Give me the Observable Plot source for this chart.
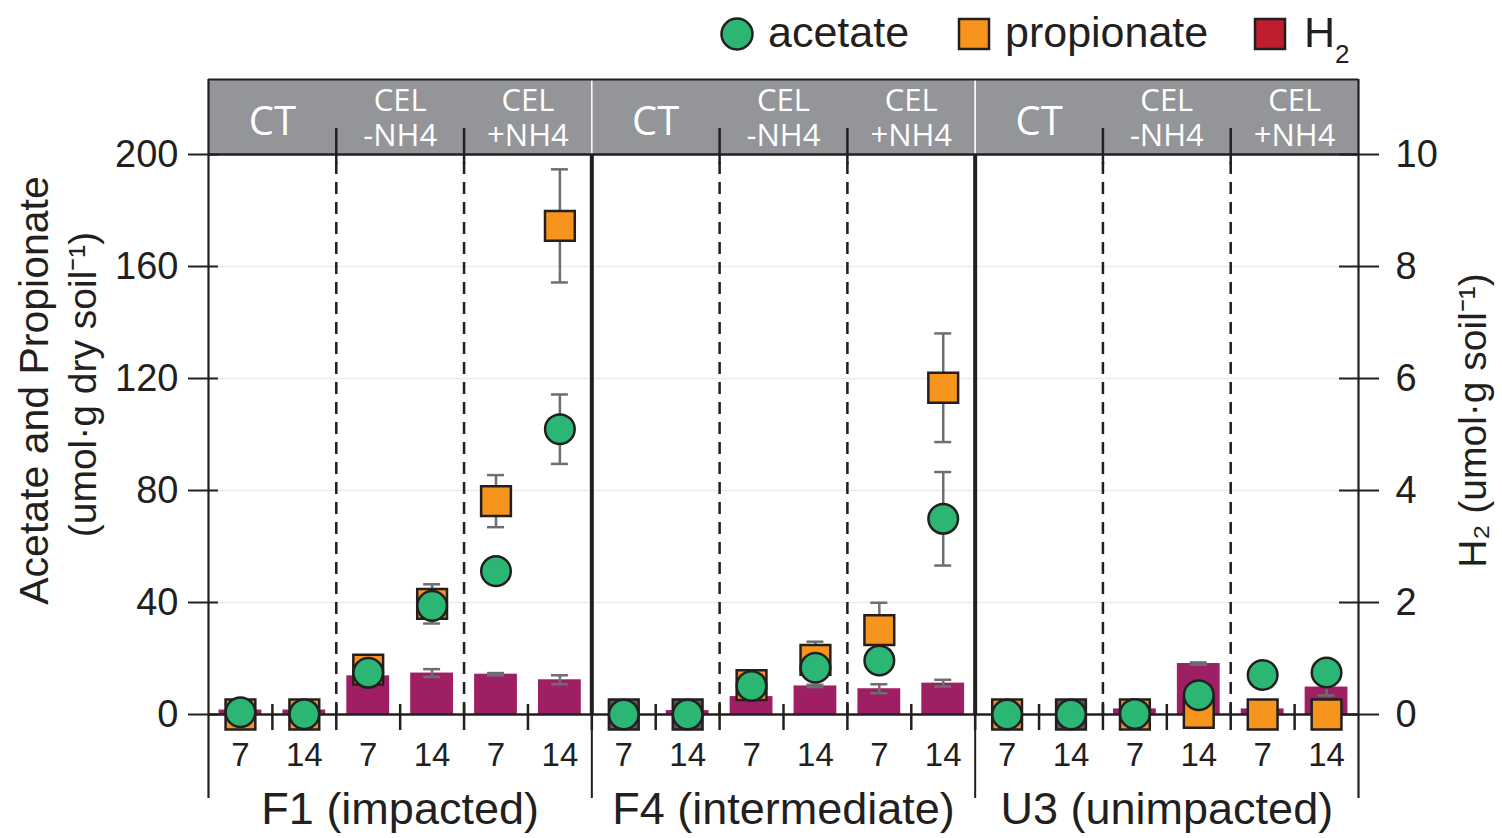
<!DOCTYPE html>
<html>
<head>
<meta charset="utf-8">
<script src="https://cdn.jsdelivr.net/npm/d3@7"></script>
<script src="https://cdn.jsdelivr.net/npm/@observablehq/plot@0.6"></script>
<style>
  html, body { margin: 0; padding: 0; background: #fff; }
  #chart svg { display: block; }
</style>
</head>
<body>
<div id="chart"></div>
<script>
// Site × treatment × incubation day; every series below follows that order.
const sites = ["F1", "F4", "U3"];
const siteLabels = ["F1 (impacted)", "F4 (intermediate)", "U3 (unimpacted)"];
const treatments = ["CT", "CEL -NH4", "CEL +NH4"];
const treatmentLabels = ["CT", "CEL\n-NH4", "CEL\n+NH4"];
const days = [7, 14];

// umol·g dry soil⁻¹
const acetate      = [0.8, 0.1, 14.9, 38.8, 51.2, 101.9,   0, 0, 10.2, 16.7, 19.3, 69.9,   0, 0, 0.2, 6.9, 14.1, 15.0];
const acetateSd    = [0, 0, 0, 1.5, 2, 12.4,               0, 0, 0, 0, 0, 16.7,            0, 0, 0, 0, 0, 0];
const propionate   = [0, 0, 16, 39.5, 76.2, 174.5,         0, 0, 10.5, 19.5, 30.1, 116.7,  0, 0, 0, 0.6, 0, 0];
const propionateSd = [0, 0, 1.5, 7, 9.3, 20.2,             0, 0, 0.5, 6.5, 9.8, 19.4,      0, 0, 0, 0, 0, 0];
// samples without detectable propionate are drawn in grey
const propionateNd = [false, false, false, false, false, false,
                      true, true, false, false, false, false,
                      false, true, false, false, false, false];
// umol·g soil⁻¹
const h2   = [0.08, 0.08, 0.69, 0.74, 0.72, 0.62,   0, 0.07, 0.32, 0.51, 0.46, 0.56,   0, 0, 0.1, 0.91, 0.1, 0.49];
const h2Sd = [0, 0, 0, 0.07, 0.02, 0.08,            0, 0, 0, 0.02, 0.08, 0.06,         0, 0, 0, 0.02, 0, 0.15];

const leftTicks = [0, 40, 80, 120, 160, 200];
const rightTicks = [0, 2, 4, 6, 8, 10];
const gridTicks = [40, 80, 120, 160];

// ---- styling ----
const FONT = "'Liberation Sans', Arial, Helvetica, sans-serif";
const HEAD_FONT = "'Open Sans', 'Noto Sans', sans-serif";
const INK = "#231f20";
const ERR = "#6d6e71";
const GREEN = "#2bb673";
const ORANGE = "#f7941d";
const ND_GREY = "#58595b";
const BAR = "#9e1f63";
const H2_SWATCH = "#be1e2d";
const HEADER = "#939598";

const W = 1502, H = 760;
const mTop = 76, mBottom = 124, mLeft = 208, mRight = 144;
const yMax = 200;
const H2_SCALE = yMax / rightTicks[rightTicks.length - 1]; // right axis shares the left scale
const nSlots = sites.length * treatments.length * days.length;
const yPx = px => px * yMax / (H - mTop - mBottom);
const xPx = px => px * nSlots / (W - mLeft - mRight);
const headerTop = yMax + yPx(75);

// ---- table ----
const rows = [];
sites.forEach((site, s) => treatments.forEach((t, k) => days.forEach((day, j) => {
  const i = (s * treatments.length + k) * days.length + j;
  rows.push({
    i, site, treatment: t, day, x: i + 0.5,
    acetate: acetate[i], acetateSd: acetateSd[i],
    propionate: propionate[i], propionateSd: propionateSd[i], nd: propionateNd[i],
    h2: h2[i] * H2_SCALE, h2Sd: h2Sd[i] * H2_SCALE
  });
})));

const perSite = treatments.length * days.length;
const siteRows = sites.map((s, k) => ({site: s, label: siteLabels[k], x1: k * perSite, x2: (k + 1) * perSite}));
const treatRows = [];
sites.forEach((s, k) => treatmentLabels.forEach((t, j) => treatRows.push({
  label: t, ct: j === 0, x: k * perSite + j * days.length + days.length / 2
})));
const slotEdges = d3.range(1, nSlots);
const siteEdges = slotEdges.filter(e => e % perSite === 0);
const treatEdges = slotEdges.filter(e => e % days.length === 0 && e % perSite !== 0);
const frameEdges = [0, nSlots];
const belowAxis = -yPx(84);

const capHalf = xPx(8.5);
function errorBars(key, sdKey) {
  const data = rows.filter(d => d[sdKey] > 0);
  return [
    Plot.ruleX(data, {x: "x", y1: d => d[key] - d[sdKey], y2: d => d[key] + d[sdKey], stroke: ERR, strokeWidth: 2.5}),
    Plot.ruleY(data, {y: d => d[key] + d[sdKey], x1: d => d.x - capHalf, x2: d => d.x + capHalf, stroke: ERR, strokeWidth: 2.5}),
    Plot.ruleY(data, {y: d => d[key] - d[sdKey], x1: d => d.x - capHalf, x2: d => d.x + capHalf, stroke: ERR, strokeWidth: 2.5})
  ];
}

const chart = Plot.plot({
  width: W, height: H,
  marginTop: mTop, marginBottom: mBottom, marginLeft: mLeft, marginRight: mRight,
  style: {fontFamily: FONT, color: INK, background: "#fff", overflow: "visible"},
  x: {type: "linear", domain: [0, nSlots], axis: null},
  y: {type: "linear", domain: [0, yMax], axis: null},
  marks: [
    // treatment header band
    Plot.rect(siteRows, {x1: "x1", x2: "x2", y1: yMax, y2: headerTop, fill: HEADER}),
    Plot.ruleY(gridTicks, {stroke: "#ebebeb", strokeWidth: 1.5}),

    // H2 bars (right axis)
    Plot.rect(rows, {x1: d => d.i + 0.165, x2: d => d.i + 0.835, y1: 0, y2: "h2", fill: BAR}),
    ...errorBars("h2", "h2Sd"),

    // treatment and site separators
    Plot.ruleX(treatEdges, {y1: 0, y2: yMax, stroke: INK, strokeWidth: 2.5, strokeDasharray: "12,8"}),
    Plot.ruleX(siteEdges, {y1: 0, y2: yMax, stroke: INK, strokeWidth: 4}),
    Plot.ruleX(siteEdges, {y1: belowAxis, y2: 0, stroke: INK, strokeWidth: 2}),
    Plot.ruleX(frameEdges, {y1: belowAxis, y2: headerTop, stroke: INK, strokeWidth: 2.2}),
    Plot.ruleX(siteEdges, {y1: yMax, y2: headerTop, stroke: "#fff", strokeWidth: 1.5}),
    Plot.ruleY([headerTop], {x1: 0, x2: nSlots, stroke: INK, strokeWidth: 2}),
    Plot.ruleY([yMax], {x1: 0, x2: nSlots, stroke: INK, strokeWidth: 2.5}),
    Plot.ruleX(treatEdges, {y1: yMax - yPx(10), y2: yMax + yPx(26), stroke: INK, strokeWidth: 2.5}),
    Plot.ruleY([0], {x1: 0, x2: nSlots, stroke: INK, strokeWidth: 2.5}),
    Plot.ruleX(slotEdges, {y1: -yPx(16), y2: yPx(10), stroke: INK, strokeWidth: 2.5}),

    // left axis: acetate and propionate
    Plot.axisY({anchor: "left", ticks: leftTicks, tickSize: 30, dx: 10, fill: "none", stroke: INK, strokeWidth: 2, label: null}),
    Plot.axisY({anchor: "left", ticks: leftTicks, tickSize: 0, tickPadding: 30, fontSize: 38, fill: INK, label: null}),
    // right axis: H2
    Plot.axisY({anchor: "right", ticks: rightTicks.map(v => v * H2_SCALE), tickSize: 40, dx: -20, fill: "none", stroke: INK, strokeWidth: 2, label: null}),
    Plot.axisY({anchor: "right", ticks: rightTicks.map(v => v * H2_SCALE), tickFormat: d => d / H2_SCALE, tickSize: 0, tickPadding: 37, fontSize: 38, fill: INK, label: null}),

    // axis titles
    Plot.text(["Acetate and Propionate"], {frameAnchor: "left", rotate: -90, textAnchor: "middle", lineAnchor: "bottom", dx: -161, dy: -44, fontSize: 41, fill: INK}),
    Plot.text(["(umol·g dry soil⁻¹)"], {frameAnchor: "left", rotate: -90, textAnchor: "middle", lineAnchor: "bottom", dx: -113, dy: -50, fontSize: 39, fill: INK}),
    Plot.text(["H₂ (umol·g soil⁻¹)"], {frameAnchor: "right", rotate: -90, textAnchor: "middle", lineAnchor: "bottom", dx: 127, dy: -14, fontSize: 39, fill: INK}),

    // header labels
    Plot.text(treatRows.filter(d => d.ct), {x: "x", y: yMax, text: "label", dy: -32, fontSize: 40, fontFamily: HEAD_FONT, fill: "#fff"}),
    Plot.text(treatRows.filter(d => !d.ct), {x: "x", y: yMax, text: "label", dy: -37, fontSize: 31, lineHeight: 1.13, fontFamily: HEAD_FONT, fill: "#fff"}),

    // day and site labels
    Plot.text(rows, {x: "x", y: 0, text: d => String(d.day), dy: 41, fontSize: 33, fill: INK}),
    Plot.text(siteRows, {x: d => (d.x1 + d.x2) / 2, y: 0, text: "label", dy: 95, fontSize: 45, fill: INK}),

    // acetate and propionate
    ...errorBars("propionate", "propionateSd"),
    ...errorBars("acetate", "acetateSd"),
    Plot.dot(rows, {x: "x", y: "propionate", symbol: "square", r: 16.8, fill: d => d.nd ? ND_GREY : ORANGE, stroke: INK, strokeWidth: 2.5}),
    Plot.dot(rows, {x: "x", y: "acetate", r: 14.8, fill: GREEN, stroke: INK, strokeWidth: 2.5})
  ]
});

// legend above the plot
const legend = d3.create("svg")
  .attr("width", W).attr("height", 78)
  .style("display", "block")
  .style("font-family", FONT)
  .attr("fill", INK);
legend.append("circle").attr("cx", 737).attr("cy", 34).attr("r", 15.5)
  .attr("fill", GREEN).attr("stroke", INK).attr("stroke-width", 2.5);
legend.append("text").attr("x", 768).attr("y", 47).attr("font-size", 43).text("acetate");
legend.append("rect").attr("x", 959).attr("y", 19).attr("width", 30).attr("height", 30)
  .attr("fill", ORANGE).attr("stroke", INK).attr("stroke-width", 2.5);
legend.append("text").attr("x", 1005).attr("y", 47).attr("font-size", 43).text("propionate");
legend.append("rect").attr("x", 1255).attr("y", 19).attr("width", 30).attr("height", 30)
  .attr("fill", H2_SWATCH).attr("stroke", INK).attr("stroke-width", 2.5);
const h2Label = legend.append("text").attr("x", 1304).attr("y", 47).attr("font-size", 43);
h2Label.append("tspan").text("H");
h2Label.append("tspan").attr("font-size", 26).attr("dy", 16).text("2");

const root = document.getElementById("chart");
root.appendChild(legend.node());
root.appendChild(chart);
</script>
</body>
</html>
